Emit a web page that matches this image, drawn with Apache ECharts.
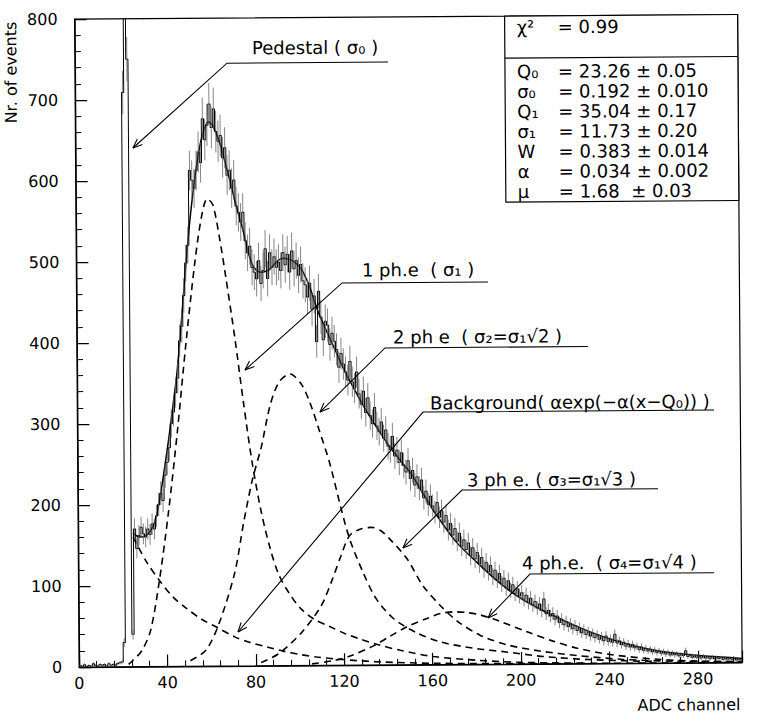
<!DOCTYPE html>
<html><head><meta charset="utf-8">
<script src="https://cdn.jsdelivr.net/npm/echarts@6/dist/echarts.min.js"></script>
<style>
html,body{margin:0;padding:0;background:#fff;overflow:hidden;}
#chart{width:763px;height:725px;transform:rotate(-0.4deg);transform-origin:50% 50%;}
</style></head><body><div id="chart"></div>
<script>
// ---------------- data ----------------
const histStart = 0;      // left edge of first bin (ADC channel)
const binWidth = 1;
const histCounts = [
  2,1,3,0,2,1,4,2,1,3,
  2,3,1,4,2,3,2,4,5,6,
  30,709,2000,750,40,170,146,162,172,164,
  160,170,163,176,170,186,200,214,205,236,
  252,270,300,314,338,356,402,420,458,498,
  520,612,600,590,612,635,622,676,650,668,
  694,665,688,660,648,655,628,640,606,612,
  590,600,568,560,548,560,525,510,518,492,
  486,478,500,472,488,515,478,510,492,505,
  492,498,488,510,495,508,486,512,490,500,
  482,495,475,470,455,472,440,456,400,462,
  430,402,425,420,396,410,400,390,368,385,
  372,362,352,375,350,342,362,335,322,338,
  312,330,308,298,318,295,288,300,280,290,
  270,266,282,258,265,250,262,246,238,252,
  230,240,222,232,218,228,206,214,198,208,
  196,188,200,182,190,176,184,166,174,160,
  168,152,162,146,154,142,150,134,144,130,
  138,124,132,118,126,114,122,108,116,104,
  112,99,106,94,103,91,98,87,93,84,
  88,80,85,76,81,73,77,69,74,66,
  80,62,66,59,62,55,59,51,55,48,
  52,46,49,43,47,41,44,38,42,36,
  39,34,37,32,35,30,33,28,34,27,
  30,26,36,25,28,23,26,21,24,20,
  23,19,21,17,20,16,18,15,17,14,
  16,13,15,12,14,11,13,10,12,10,
  11,9,10,9,15,8,9,7,8,7,
  8,6,8,6,7,5,7,5,6,5,
  6,4,5,4,5,4,5,3,4,3
];

// total fit (solid line)
const fitX = [24.8,26.8,28.8,30.8,32.8,34.9,36.9,39.0,41.1,43.2,
  45.3,47.5,49.7,51.9,54.0,56.1,58.1,60.1,62.1,64.1,
  66.1,68.0,70.0,71.9,73.8,75.8,77.7,79.7,81.7,83.7,
  85.7,87.7,89.7,91.7,93.7,95.7,97.7,99.7,101.7,103.6,
  105.6,107.6,109.5,111.5,116.4,121.3,126.3,131.2,136.2,141.1,
  146.1,151.0,156.0,160.9,170.8,180.7,190.7,200.6,210.6,220.5,
  230.5,240.5,250.5,260.4,270.4,280.4,290.4,300];
const fitY = [165,161,160,162,168,180,205,240,278,320,
  365,430,500,560,605,640,662,672,668,655,
  638,618,597,575,555,535,512,495,488,486,
  487,490,496,501,503,502,500,496,490,480,
  467,450,435,422,392,362,336,312,290,270,
  252,235,212,190,152,125,100,80,65,52,
  40,30,22,16,12,9,7,5];

// background exponential (dashed)
const bgX = [24.8,30.7,36.7,42.6,48.6,55.6,62.5,70.5,77.5,85.5,92.4,100.4,107.4,115.4,122.4,137.4,160.4,200.4,250,300];
const bgY = [160,130,106,86,72,58,48,36,29,23,18,13.5,10.5,8,6.3,3.7,1.7,0.5,0.1,0];

// 1 ph.e (dashed)
const pe1X = [22.4,24.4,28.5,32.5,36.7,40.9,45.2,49.4,53.7,56.8,59.4,61.9,64.8,67.6,71.5,75.2,79.0,82.9,86.8,90.7,95.6,100.6,106.5,113.5,120.5,127.5,135.5,145.4,160.4,180.4,200.4,230.4];
const pe1Y = [3,8,20,45,108,190,290,400,500,555,577,570,530,480,405,325,250,190,145,112,88,70,57,48,39,32,25,18,10,5,2,0.5];

// 2 ph.e (dashed)
const pe2X = [50.4,57.5,63.5,70.7,74.9,79.0,83.1,87.2,91.3,96.3,101.3,105.2,109.2,114.0,118.9,122.8,128.7,134.6,142.5,152.5,163.5,178.5,193.4,210.4,230.4,260.4];
const pe2Y = [7,20,53,115,177,230,270,321,350,360,348,325,292,250,195,156,115,82,57,40,28,20,15,9,5,2];

// 3 ph.e (dashed)
const pe3X = [82.4,90.4,100.5,109.6,114.7,118.8,122.8,127.8,132.8,136.8,140.8,148.7,155.7,163.6,171.5,181.5,193.5,208.4,225.4,245.4,270.4,300];
const pe3Y = [4,15,40,73,105,135,160,168,170,166,156,131,98,73,53,36,24,16,10,5,2,1];

// 4 ph.e (dashed)
const pe4X = [105.4,115.4,122.4,133.5,140.5,148.5,157.5,163.6,169.6,175.6,181.6,190.5,202.5,214.5,225.5,240.4,260.4,280.4,300];
const pe4Y = [2,6,11,24,35,47,57,63,65,64,61,53,40,28,19,11,5,2,1];

// axes
const xRange = [0, 300], xStep = 40;
const yRange = [0, 800], yStep = 100;

// fit result box
const chiName = 'χ²', chiValue = '= 0.99';
const parNames = ['Q₀','σ₀','Q₁','σ₁','W','α','μ'];
const parValues = ['= 23.26 ± 0.05','= 0.192 ± 0.010','= 35.04 ± 0.17','= 11.73 ± 0.20','= 0.383 ± 0.014','= 0.034 ± 0.002','= 1.68  ± 0.03'];

// annotation texts
const noteTexts = ['Pedestal ( σ₀ )','1 ph.e  ( σ₁ )','2 ph e  ( σ₂=σ₁√2 )','Background( αexp(−α(x−Q₀)) )','3 ph e. ( σ₃=σ₁√3 )','4 ph.e.  ( σ₄=σ₁√4 )'];

// ---------------- layout (data-space anchors for the leader lines) ----------------
const noteLayout = [
  {label:[80.2,763],  tip:[26.0,640.4], elbow:[68.8,744.3], end:[141.7,744.3]},
  {label:[129.2,487.8], tip:[76.0,365.4], elbow:[120.2,472], end:[186.2,472]},
  {label:[143.1,404.8], tip:[109.8,312.8], elbow:[139.4,391.4], end:[231.3,391.4]},
  {label:[159.6,323],  tip:[72.0,42],    elbow:[156.4,311.9], end:[288.1,311.9]},
  {label:[176.1,227.7], tip:[146.9,144.3], elbow:[173.8,215.3], end:[262.5,215.3]},
  {label:[200.7,124.7], tip:[185.2,57.2], elbow:[204.3,111],  end:[287.6,111]}
];

const FONT = '"DejaVu Sans", sans-serif';
const chart = echarts.init(document.getElementById('chart'), null, {renderer:'svg', width:763, height:725});

function pairs(xs, ys){ return xs.map((x,i)=>[x, ys[i]]); }
const histLine = [];
histCounts.forEach((v,i)=>{ const x0 = histStart + i*binWidth; histLine.push([x0, v],[x0+binWidth, v]); });
const histPoints = histCounts.map((v,i)=>[histStart + (i+0.5)*binWidth, v]);

const dash = {color:'#000', width:1.6, type:[7,5]};
function curve(xs, ys){ return {type:'line', data:pairs(xs,ys), smooth:0.3, showSymbol:false, silent:true, lineStyle:dash, z:2}; }

const axisCommon = {
  axisLine:{show:true, onZero:false, lineStyle:{color:'#000', width:1.2}},
  axisTick:{show:true, inside:true, length:12, lineStyle:{color:'#000', width:1.2}},
  minorTick:{show:true, splitNumber:5, length:6, lineStyle:{color:'#000', width:1}},
  splitLine:{show:false}, minorSplitLine:{show:false}
};

chart.setOption({
  animation:false,
  backgroundColor:'#fff',
  grid:{left:77, right:23, top:17, bottom:60, show:true, borderColor:'#000', borderWidth:1.2, containLabel:false, outerBoundsMode:'none'},
  xAxis:Object.assign({type:'value', min:xRange[0], max:xRange[1], interval:xStep,
    axisLabel:{color:'#000', fontFamily:FONT, fontSize:16, margin:8, showMaxLabel:false}}, axisCommon),
  yAxis:Object.assign({type:'value', min:yRange[0], max:yRange[1], interval:yStep,
    axisLabel:{color:'#000', fontFamily:FONT, fontSize:16, margin:17}}, axisCommon),
  series:[
    curve(bgX,bgY), curve(pe1X,pe1Y), curve(pe2X,pe2Y), curve(pe3X,pe3Y), curve(pe4X,pe4Y),
    {type:'line', data:pairs(fitX,fitY), smooth:0.3, showSymbol:false, silent:true, lineStyle:{color:'#000', width:1.5}, z:3},
    {type:'line', data:histLine, showSymbol:false, silent:true, lineStyle:{color:'#000', width:1}, z:4},
    {type:'custom', data:histPoints, clip:true, silent:true, z:5,
      renderItem:function(params, api){
        const x = api.value(0), v = api.value(1);
        if (!(v > 0)) return null;
        const e = Math.sqrt(v);
        const p1 = api.coord([x, v - e]), p2 = api.coord([x, v + e]);
        return {type:'line', shape:{x1:p1[0], y1:p1[1], x2:p2[0], y2:p2[1]}, style:{stroke:'#666', lineWidth:0.8}};
      }}
  ]
});

const px = p => chart.convertToPixel({gridIndex:0}, p);
const g = [];
noteLayout.forEach((n, k)=>{
  const t = px(n.tip), e = px(n.elbow), f = px(n.end), l = px(n.label);
  g.push({type:'polyline', shape:{points:[t,e,f]}, style:{stroke:'#000', lineWidth:1.1, fill:null}, z:50});
  const dx = e[0]-t[0], dy = e[1]-t[1], len = Math.hypot(dx,dy), ux = dx/len, uy = dy/len;
  const a = 22*Math.PI/180, L = 10;
  [a,-a].forEach(s=>{
    const c = Math.cos(s), sn = Math.sin(s);
    const rx = ux*c - uy*sn, ry = ux*sn + uy*c;
    g.push({type:'line', shape:{x1:t[0], y1:t[1], x2:t[0]+rx*L, y2:t[1]+ry*L}, style:{stroke:'#000', lineWidth:1.1}, z:50});
  });
  g.push({type:'text', x:l[0], y:l[1], style:{text:noteTexts[k], font:'18px "DejaVu Sans"', fill:'#000', align:'left', verticalAlign:'middle'}, z:51});
});

// fit-result box (pixel layout)
const bx0 = 507, bx1 = 740, by0 = 17, by1 = 203, byDiv = 59;
g.push({type:'rect', shape:{x:bx0, y:by0, width:bx1-bx0, height:by1-by0}, style:{fill:'#fff', stroke:'#000', lineWidth:1.2}, z:60});
g.push({type:'line', shape:{x1:bx0, y1:byDiv, x2:bx1, y2:byDiv}, style:{stroke:'#000', lineWidth:1.2}, z:61});
const boxStyle = {font:'18px "DejaVu Sans"', fill:'#000', align:'left', verticalAlign:'middle', lineHeight:18};
g.push({type:'text', x:519, y:28, style:Object.assign({text:chiName}, boxStyle), z:62});
g.push({type:'text', x:560, y:28, style:Object.assign({text:chiValue}, boxStyle), z:62});
parNames.forEach((nm,i)=>{
  const y = 72.5 + 20*i;
  g.push({type:'text', x:519, y:y, style:Object.assign({text:nm}, boxStyle), z:62});
  g.push({type:'text', x:560, y:y, style:Object.assign({text:parValues[i]}, boxStyle), z:62});
});

// axis titles
g.push({type:'text', x:13, y:70, rotation:Math.PI/2, style:{text:'Nr. of events', font:'16px "DejaVu Sans"', fill:'#000', align:'center', verticalAlign:'middle'}, z:62});
g.push({type:'text', x:738, y:707, style:{text:'ADC channel', font:'16px "DejaVu Sans"', fill:'#000', align:'right', verticalAlign:'middle'}, z:62});

chart.setOption({graphic:g});
</script></body></html>
